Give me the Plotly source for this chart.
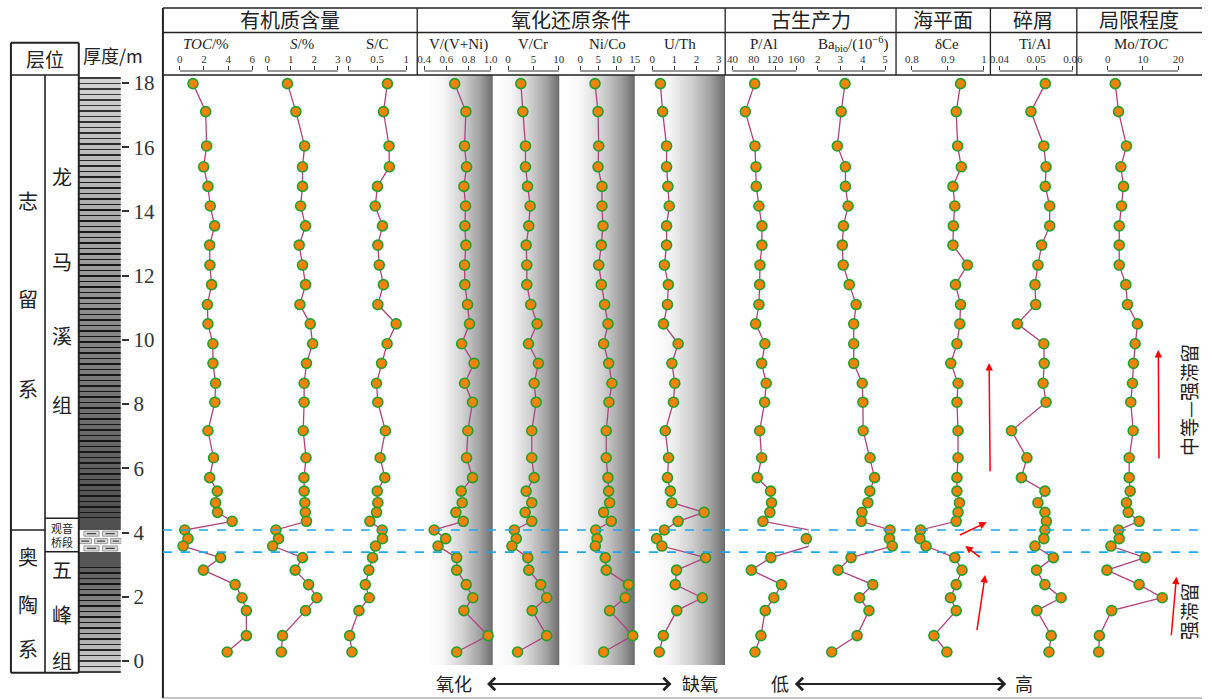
import plotly.graph_objects as go

W, H = 1208, 699

# ---------------- data ----------------
depth = [17.98, 17.11, 16.04, 15.39, 14.78, 14.17, 13.55, 12.95, 12.33, 11.72, 11.10,
         10.50, 9.88, 9.27, 8.65, 8.06, 7.17, 6.33, 5.71, 5.29, 4.93, 4.63, 4.35, 4.08,
         3.81, 3.58, 3.22, 2.83, 2.38, 1.97, 1.57, 0.79, 0.28]
toc = [1.09, 2.14, 2.22, 1.97, 2.33, 2.52, 2.88, 2.47, 2.49, 2.63, 2.28, 2.33, 2.74, 2.74,
       2.96, 2.90, 2.33, 2.79, 2.47, 3.10, 2.96, 3.12, 4.33, 0.41, 0.68, 0.27, 3.37, 1.95,
       4.58, 5.15, 5.51, 5.51, 3.92]
s_pct = [0.86, 1.22, 1.59, 1.50, 1.50, 1.42, 1.63, 1.36, 1.50, 1.63, 1.39, 1.83, 1.93, 1.67,
         1.57, 1.57, 1.53, 1.65, 1.56, 1.57, 1.60, 1.62, 1.67, 0.37, 0.48, 0.23, 1.50, 1.19,
         1.76, 2.11, 1.63, 0.65, 0.60]
s_c = [0.675, 0.607, 0.703, 0.709, 0.504, 0.465, 0.59, 0.51, 0.535, 0.607, 0.51, 0.825, 0.67,
       0.573, 0.487, 0.51, 0.641, 0.55, 0.63, 0.5, 0.51, 0.487, 0.373, 0.585, 0.59, 0.47,
       0.419, 0.356, 0.294, 0.362, 0.185, 0.026, 0.065]
v_vni = [0.675, 0.776, 0.764, 0.782, 0.758, 0.773, 0.767, 0.776, 0.764, 0.767, 0.791, 0.809,
         0.738, 0.85, 0.764, 0.836, 0.794, 0.782, 0.836, 0.734, 0.743, 0.686, 0.752, 0.49,
         0.594, 0.525, 0.693, 0.693, 0.779, 0.839, 0.758, 0.976, 0.693]
v_cr = [2.51, 2.90, 3.43, 3.43, 3.82, 4.35, 4.08, 3.57, 3.69, 3.69, 4.47, 5.73, 4.02, 5.98,
        5.14, 5.53, 4.67, 4.67, 5.14, 3.57, 4.67, 3.37, 4.67, 1.22, 1.61, 0.75, 3.88, 4.08,
        6.43, 7.61, 4.75, 7.61, 1.86]
ni_co = [4.09, 4.91, 5.1, 4.91, 6.0, 6.0, 6.27, 5.81, 5.1, 5.81, 6.73, 7.64, 6.46, 7.83,
         8.73, 7.91, 7.17, 7.17, 7.64, 7.83, 8.1, 6.46, 8.54, 4.28, 4.64, 4.17, 6.9, 7.17,
         13.28, 12.36, 8.1, 14.45, 6.46]
u_th = [0.37, 0.47, 0.65, 0.65, 0.71, 0.77, 0.65, 0.65, 0.55, 0.73, 0.69, 0.51, 1.17, 0.89,
        1.02, 0.96, 0.59, 0.74, 0.69, 0.82, 0.89, 2.34, 1.17, 0.55, 0.2, 0.44, 2.41, 1.1,
        1.04, 2.26, 1.11, 0.5, 0.32]
p_al = [81.7, 64.2, 82.3, 84.2, 84.7, 89.7, 95.3, 95.3, 91.6, 91.1, 89.7, 83.6, 100.9, 94.8,
        103.4, 100.4, 91.1, 94.8, 86.6, 111.6, 113.4, 110.2, 97.2, 184.8, 178.6, 184.8,
        112.1, 75.4, 132.0, 117.7, 101.5, 93.5, 82.3]
ba_bio = [3.21, 3.04, 2.87, 3.23, 3.23, 3.35, 3.14, 3.09, 3.13, 3.40, 3.71, 3.60, 3.60, 3.60,
          3.98, 4.01, 4.02, 4.33, 4.53, 4.32, 4.23, 3.97, 3.94, 5.22, 5.19, 5.32, 3.48, 2.90,
          4.45, 3.86, 4.28, 3.75, 2.62]
d_ce = [0.935, 0.923, 0.927, 0.937, 0.914, 0.919, 0.915, 0.914, 0.954, 0.921, 0.935, 0.933,
        0.925, 0.908, 0.928, 0.925, 0.928, 0.928, 0.925, 0.925, 0.932, 0.928, 0.923, 0.824,
        0.822, 0.839, 0.919, 0.939, 0.923, 0.907, 0.923, 0.861, 0.897]
ti_al = [0.0525, 0.0486, 0.0521, 0.0527, 0.0525, 0.0537, 0.0537, 0.0515, 0.0505, 0.0497,
         0.0499, 0.0449, 0.0521, 0.0522, 0.0519, 0.0527, 0.0433, 0.0475, 0.0460, 0.0524,
         0.0505, 0.0524, 0.0528, 0.0524, 0.0521, 0.0497, 0.0547, 0.0501, 0.0524, 0.0568,
         0.0502, 0.0541, 0.0535]
mo_toc = [2.16, 3.10, 5.35, 3.75, 4.51, 3.94, 3.29, 3.29, 3.29, 5.16, 5.63, 8.45, 7.8, 7.32,
          7.04, 6.57, 7.24, 6.11, 6.11, 6.39, 5.35, 5.83, 8.93, 3.10, 3.29, 0.93, 10.62, -0.2,
          8.93, 15.49, 1.13, -2.34, -2.54]

boundaries = [4.08, 3.39]          # dashed boundary depths (m)
depth_ticks = list(range(0, 19, 2))

group_titles = ["有机质含量", "氧化还原条件", "古生产力", "海平面", "碎屑", "局限程度"]

# ---------------- layout helpers ----------------
def pxx(px):
    return px / W


def pxy(py):
    return 1 - py / H


D_TOP_PX, D_BOT_PX = 83.0, 661.0
MPP = 18.0 / (D_BOT_PX - D_TOP_PX)
AX_TOP_PX = 71.0
Y_HI = 18 + (D_TOP_PX - AX_TOP_PX) * MPP
Y_LO = 0 - (H - D_BOT_PX) * MPP


def py2d(py):
    return 18 - (py - D_TOP_PX) * MPP


SERIF = "Liberation Serif"
CJK = "Noto Sans CJK SC"
INK = "#222222"

panels = [
    dict(data=toc, title="<i>TOC</i>/%", tx=205, dom=(165, 258), cal=(179, 0, 252, 6),
         ticks=[0, 2, 4, 6], labels=["0", "2", "4", "6"]),
    dict(data=s_pct, title="<i>S</i>/%", tx=302, dom=(258, 343), cal=(267, 0, 338, 3),
         ticks=[0, 1, 2, 3], labels=["0", "1", "2", "3"]),
    dict(data=s_c, title="S/C", tx=378, dom=(343, 417), cal=(348.5, 0, 407, 1),
         ticks=[0, 0.5, 1], labels=["0", "0.5", "1"]),
    dict(data=v_vni, title="V/(V+Ni)", tx=460, dom=(420, 495), cal=(425, 0.4, 492, 1.0),
         ticks=[0.4, 0.6, 0.8, 1.0], labels=["0.4", "0.6", "0.8", "1.0"], band=(428, 494)),
    dict(data=v_cr, title="V/Cr", tx=535, dom=(495, 562), cal=(509.5, 0, 560.5, 10),
         ticks=[0, 5, 10], labels=["0", "5", "10"], band=(496, 561)),
    dict(data=ni_co, title="Ni/Co", tx=610, dom=(562, 645), cal=(582, 0, 637, 15),
         ticks=[0, 5, 10, 15], labels=["0", "5", "10", "15"], band=(566, 637)),
    dict(data=u_th, title="U/Th", tx=683, dom=(645, 728), cal=(654.5, 0, 721.5, 3),
         ticks=[0, 1, 2, 3], labels=["0", "1", "2", "3"], band=(652, 728)),
    dict(data=p_al, title="P/Al", tx=767, dom=(729, 812), cal=(735.3, 40, 799.7, 160),
         ticks=[40, 80, 120, 160], labels=["40", "80", "120", "160"]),
    dict(data=ba_bio, title="Ba<sub>bio</sub>/(10<sup>−6</sup>)", tx=857, dom=(812, 900),
         cal=(821.3, 2, 889, 5), ticks=[2, 3, 4, 5], labels=["2", "3", "4", "5"]),
    dict(data=d_ce, title="δCe", tx=951, dom=(901, 994), cal=(916, 0.8, 988.5, 1.0),
         ticks=[0.8, 0.9, 1.0], labels=["0.8", "0.9", "1"]),
    dict(data=ti_al, title="Ti/Al", tx=1040, dom=(996, 1082), cal=(1004, 0.04, 1078, 0.06),
         ticks=[0.04, 0.05, 0.06], labels=["0.04", "0.05", "0.06"]),
    dict(data=mo_toc, title="Mo/<i>TOC</i>", tx=1147, dom=(1083, 1206), cal=(1113, 0, 1184, 20),
         ticks=[0, 10, 20], labels=["0", "10", "20"]),
]

fig = go.Figure()
layout = dict(
    width=W, height=H, margin=dict(l=0, r=0, t=0, b=0),
    paper_bgcolor="white", plot_bgcolor="rgba(0,0,0,0)", showlegend=False,
    font=dict(family=SERIF, color=INK),
)
shapes = []
annotations = []


def p2v(panel, px):
    p0, v0, p1, v1 = panel["cal"]
    return v0 + (px - p0) * (v1 - v0) / (p1 - p0)


band_top = py2d(75)
band_bot = py2d(665)

for i, pn in enumerate(panels):
    n = i + 1
    xa = "x" if n == 1 else f"x{n}"
    lk = "xaxis" if n == 1 else f"xaxis{n}"
    layout[lk] = dict(
        domain=[pxx(pn["dom"][0]), pxx(pn["dom"][1])],
        range=[p2v(pn, pn["dom"][0]), p2v(pn, pn["dom"][1])],
        anchor="y", side="top", showline=False, showgrid=False, zeroline=False,
        ticks="outside", ticklen=4, tickwidth=1, tickcolor="#333",
        tickvals=pn["ticks"], ticktext=pn["labels"], ticklabelstandoff=-1,
        tickfont=dict(family=SERIF, size=11, color="#333"), fixedrange=True,
    )
    if "band" in pn:
        bx0, bx1 = p2v(pn, pn["band"][0]), p2v(pn, pn["band"][1])
        fig.add_trace(go.Scatter(
            x=[bx0, bx1, bx1, bx0, bx0], y=[band_top, band_top, band_bot, band_bot, band_top],
            xaxis=xa, yaxis="y", mode="none", fill="toself", hoverinfo="skip",
            fillgradient=dict(type="horizontal",
                              colorscale=[[0, "#ffffff"], [0.25, "#f6f6f6"], [0.55, "#d0d0d0"],
                                          [0.8, "#a2a2a2"], [1, "#6c6c6c"]]),
        ))
    fig.add_trace(go.Scatter(
        x=pn["data"], y=depth, xaxis=xa, yaxis="y", mode="lines+markers", cliponaxis=False,
        line=dict(color="#b0427d", width=1.3),
        marker=dict(size=10, color="#f5820b", line=dict(color="#22a02e", width=1.6)),
        hoverinfo="x+y",
    ))
    # bracket line of the scale
    shapes.append(dict(type="line", xref=xa, yref="paper", x0=pn["ticks"][0], x1=pn["ticks"][-1],
                       y0=pxy(AX_TOP_PX), y1=pxy(AX_TOP_PX), line=dict(color="#333", width=1.2)))
    annotations.append(dict(text=pn["title"], x=pxx(pn["tx"]), y=pxy(44), xref="paper", yref="paper",
                            showarrow=False, font=dict(family=SERIF, size=15, color=INK),
                            xanchor="center", yanchor="middle"))

layout["yaxis"] = dict(
    domain=[0, pxy(AX_TOP_PX)], range=[Y_LO, Y_HI], anchor="free", position=pxx(120),
    side="right", showline=False, showgrid=False, zeroline=False,
    ticks="outside", ticklen=7, tickwidth=1.5, tickcolor="#333",
    tickvals=depth_ticks, ticktext=[str(t) for t in depth_ticks],
    tickfont=dict(family=SERIF, size=21, color="#333"), fixedrange=True,
)

# ---------------- lithology column (decorative pattern) ----------------
LN = len(panels) + 1
lx = f"x{LN}"
layout[f"xaxis{LN}"] = dict(domain=[pxx(77.3), pxx(120)], range=[0, 1], anchor="y",
                             visible=False, fixedrange=True)
lim_top, lim_bot = boundaries[0], boundaries[1]
top_px, bot_px = 77.0, 672.7
rows = []
edges = []
py = top_px
while py < bot_px:
    d = py2d(py + 0.5)
    if d >= 4.45:
        g = 80 + (212 - 80) * (d - 4.45) / (18.2 - 4.45)
        stripe = True
    elif d >= lim_top:
        g, stripe = 80, False
    elif d >= lim_bot:
        g, stripe = 255, False
    elif d >= 2.95:
        g, stripe = 85, False
    else:
        g = 90 + (215 - 90) * (2.95 - d) / (2.95 - py2d(bot_px))
        stripe = True
    if stripe and ((py - top_px) % 5.5) < 1.2:
        g = max(22, g - 150)
    rows.append([g])
    edges.append(py2d(py))
    py += 1
edges.append(py2d(bot_px))
fig.add_trace(go.Heatmap(
    z=rows, x=[0, 1], y=edges, xaxis=lx, yaxis="y", colorscale=[[0, "#000"], [1, "#fff"]],
    zmin=0, zmax=255, showscale=False, hoverinfo="skip",
))
# limestone bricks
row_h = (lim_top - lim_bot) / 3
for r in range(3):
    y_hi = lim_top - r * row_h - 0.035
    y_lo = lim_top - (r + 1) * row_h + 0.035
    bricks = [(0.12, 0.48), (0.56, 0.92)] if r != 1 else [(0.0, 0.3), (0.37, 0.68), (0.75, 1.0)]
    for bx0, bx1 in bricks:
        shapes.append(dict(type="rect", xref=lx, yref="y", x0=bx0, x1=bx1, y0=y_lo, y1=y_hi,
                           fillcolor="#d6d6d6", line=dict(color="#8a8a8a", width=0.8), layer="above"))
        shapes.append(dict(type="line", xref=lx, yref="y", x0=bx0 + 0.2 * (bx1 - bx0),
                           x1=bx1 - 0.2 * (bx1 - bx0), y0=(y_lo + y_hi) / 2, y1=(y_lo + y_hi) / 2,
                           line=dict(color="#444", width=1.2), layer="above"))


# ---------------- frames ----------------
def pline(x0, y0, x1, y1, w=1.3, color="#222"):
    shapes.append(dict(type="line", xref="paper", yref="paper", x0=pxx(x0), x1=pxx(x1),
                       y0=pxy(y0), y1=pxy(y1), line=dict(color=color, width=w)))


pline(162, 8, 162, 698, 2)
pline(162, 8, 1208, 8)
pline(162, 698, 1208, 698, 1, "#888")
pline(162, 32.5, 1208, 32.5)
pline(162, 75, 1208, 75)
for vx in (418, 728, 900, 995, 1082):
    pline(vx, 8, vx, 75)
# stratigraphy table
pline(9, 42.7, 77.3, 42.7, 2)
pline(9, 42.7, 9, 672.7, 2)
pline(77.3, 42.7, 77.3, 672.7, 2)
pline(9, 672.7, 77.3, 672.7, 2)
pline(9, 75, 77.3, 75, 1.6)
pline(43.3, 75, 43.3, 672.7, 1.6)
pline(9, 530, 43.3, 530, 1.6)
pline(43.3, 518.3, 77.3, 518.3, 1.6)
pline(43.3, 551.7, 77.3, 551.7, 1.6)

# dashed boundaries
for b in boundaries:
    shapes.append(dict(type="line", xref="paper", yref="y", x0=pxx(162), x1=1, y0=b, y1=b,
                       line=dict(color="#1ea7ee", width=1.6, dash="dash")))


# ---------------- texts ----------------
def txt(t, x, y, size=18, family=CJK, angle=0, color=INK):
    annotations.append(dict(text=t, x=pxx(x), y=pxy(y), xref="paper", yref="paper", showarrow=False,
                            font=dict(family=family, size=size, color=color), textangle=angle,
                            xanchor="center", yanchor="middle"))


for t, x in zip(group_titles, [290, 573, 814, 947, 1038, 1145]):
    txt(t, x, 20, 20)

txt("层位", 43, 58, 19)
txt("厚度/m", 112, 55, 18)
for ch, y in zip("志留系", [200, 298, 388]):
    txt(ch, 26, y, 20)
for ch, y in zip("龙马溪组", [176, 262, 336, 404]):
    txt(ch, 60, y, 20)
for ch, y in zip("奥陶系", [556, 604, 648]):
    txt(ch, 26, y, 20)
for ch, y in zip("五峰组", [569, 614, 660]):
    txt(ch, 60, y, 20)
annotations.append(dict(text="观音<br>桥段", x=pxx(60), y=pxy(535), xref="paper", yref="paper",
                        showarrow=False, font=dict(family=CJK, size=11, color=INK),
                        xanchor="center", yanchor="middle"))

txt("氧化", 455, 683, 18)
txt("缺氧", 703, 683, 18)
txt("低", 783, 683, 18)
txt("高", 1029, 683, 18)
txt("中等—强滞留", 1194, 400, 19, angle=-90)
txt("强滞留", 1194, 612, 19, angle=-90)


def arrow(tail, head, color="red", width=1.5, head_style=2, size=1.0, both=False):
    d = dict(text="", x=pxx(head[0]), y=pxy(head[1]), xref="paper", yref="paper",
             ax=tail[0] - head[0], ay=tail[1] - head[1], showarrow=True,
             arrowhead=head_style, arrowsize=size, arrowwidth=width, arrowcolor=color)
    if both:
        d["arrowside"] = "end+start"
        d["startarrowhead"] = head_style
        d["startarrowsize"] = size
    annotations.append(d)


arrow((488, 684), (674, 684), "#222", 2.2, 4, 1.1, both=True)
arrow((798, 684), (1011, 684), "#222", 2.2, 4, 1.1, both=True)
arrow((994.7, 472.7), (993.7, 363))
arrow((963, 535.7), (991.3, 522.3))
arrow((985.7, 558.3), (969.7, 546))
arrow((981.3, 631.7), (989.7, 575))
arrow((1164.7, 460), (1164, 350))
arrow((1177, 636.7), (1182.3, 576.7))

layout["shapes"] = shapes
layout["annotations"] = annotations
fig.update_layout(**layout)
fig.write_html("out.html")
